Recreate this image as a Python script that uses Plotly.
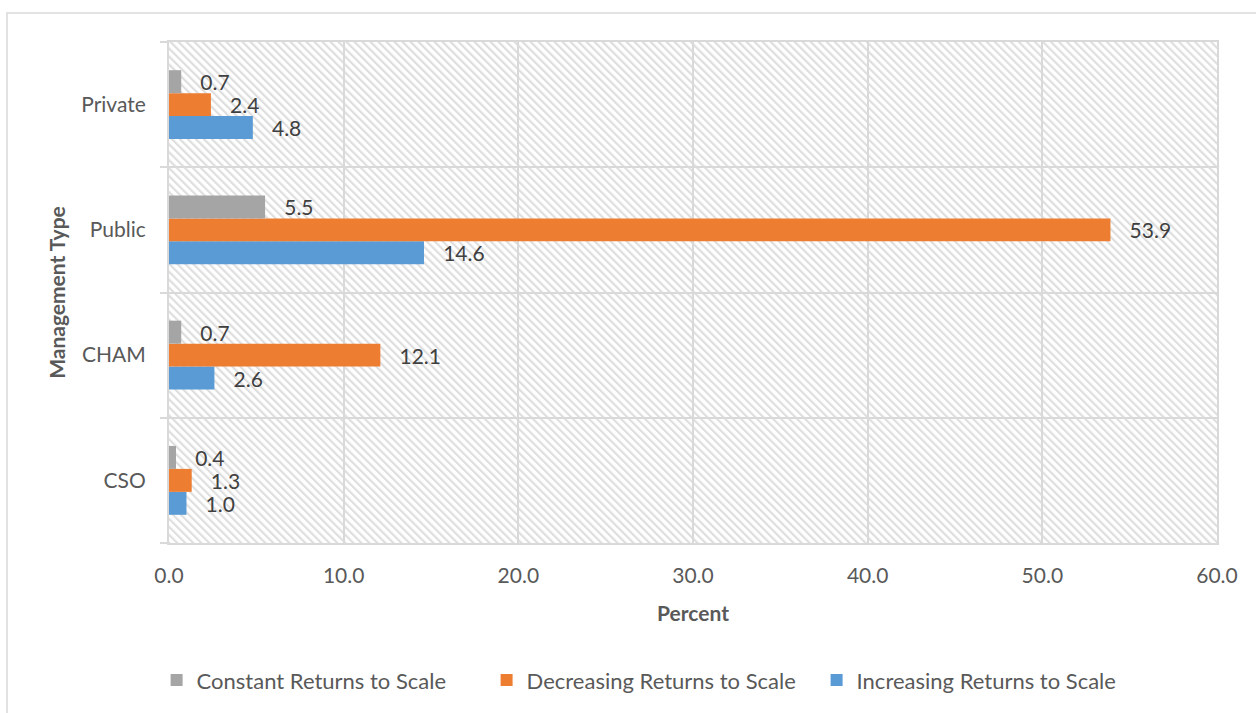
import base64
import plotly.graph_objects as go

# Management types, listed bottom to top
categories = ["CSO", "CHAM", "Public", "Private"]

# Percent of facilities per returns-to-scale class
increasing = [1.0, 2.6, 14.6, 4.8]
decreasing = [1.3, 12.1, 53.9, 2.4]
constant = [0.4, 0.7, 5.5, 0.7]

x_ticks = [0, 10, 20, 30, 40, 50, 60]
x_tick_labels = ["0.0", "10.0", "20.0", "30.0", "40.0", "50.0", "60.0"]

W, H = 1256, 713
M_L, M_R, M_T, M_B = 169, 39, 42, 168
PW, PH = W - M_L - M_R, H - M_T - M_B

FONT = "Lato, 'Open Sans', sans-serif"
FS = 21
GRID = "#D9D9D9"
PAD = "\u00a0\u00a0\u00a0"

# Diagonal hatch fill for the plot area
hatch_svg = f"""<svg xmlns='http://www.w3.org/2000/svg' width='{PW}' height='{PH}'>
<defs><pattern id='h' patternUnits='userSpaceOnUse' width='5.66' height='5.66' patternTransform='rotate(-45)'>
<rect x='0' y='0' width='2.2' height='5.66' fill='#DEDEDE'/></pattern></defs>
<rect width='100%' height='100%' fill='#FFFFFF'/>
<rect width='100%' height='100%' fill='url(#h)'/></svg>"""
hatch_uri = "data:image/svg+xml;base64," + base64.b64encode(hatch_svg.encode()).decode()

series = [
    ("Increasing Returns to Scale", increasing, "#5B9BD5"),
    ("Decreasing Returns to Scale", decreasing, "#ED7D31"),
    ("Constant Returns to Scale", constant, "#A5A5A5"),
]

fig = go.Figure()
for name, vals, color in series:
    fig.add_trace(go.Bar(
        name=name,
        y=categories,
        x=vals,
        orientation="h",
        marker=dict(color=color, line=dict(width=0)),
        text=[f"{v:.1f}" for v in vals],
        texttemplate=PAD + "%{text}",
        textposition="outside",
        textfont=dict(family=FONT, size=FS, color="#404040"),
        constraintext="none",
        cliponaxis=False,
    ))

fig.update_layout(
    width=W, height=H,
    margin=dict(l=M_L, r=M_R, t=M_T, b=M_B),
    paper_bgcolor="white",
    plot_bgcolor="rgba(0,0,0,0)",
    barmode="group",
    bargap=0.45,
    bargroupgap=0,
    font=dict(family=FONT, color="#595959"),
    showlegend=True,
    legend=dict(
        orientation="h",
        traceorder="reversed",
        x=0.4605, xanchor="center",
        y=-0.274, yanchor="middle",
        font=dict(family=FONT, size=22, color="#595959"),
        itemsizing="constant",
        itemwidth=30,
        entrywidth=285,
        entrywidthmode="pixels",
    ),
    images=[dict(
        source=hatch_uri, xref="paper", yref="paper",
        x=0, y=1, sizex=1, sizey=1,
        xanchor="left", yanchor="top",
        sizing="stretch", layer="below",
    )],
    shapes=[dict(
        type="rect", xref="paper", yref="paper",
        x0=(7 - M_L) / PW, x1=(W + 10 - M_L) / PW,
        y0=-(H + 10 - M_T - PH) / PH, y1=(M_T + PH - 13) / PH,
        line=dict(color=GRID, width=1.5),
        fillcolor="rgba(0,0,0,0)",
        layer="below",
    )],
)

fig.update_xaxes(
    range=[0, 60],
    tickvals=x_ticks,
    ticktext=x_tick_labels,
    tickfont=dict(family=FONT, size=FS, color="#595959"),
    ticklabelstandoff=13,
    showgrid=True, gridcolor=GRID, gridwidth=2,
    zeroline=False,
    showline=True, linecolor=GRID, linewidth=2, mirror=True,
    title=dict(text="<b>Percent</b>", font=dict(family=FONT, size=FS, color="#595959"), standoff=20),
)

fig.update_yaxes(
    categoryorder="array", categoryarray=categories,
    tickson="boundaries",
    ticks="outside", ticklen=7, tickcolor=GRID, tickwidth=2,
    tickfont=dict(family=FONT, size=FS, color="#595959"),
    ticklabelstandoff=17,
    showgrid=True, gridcolor=GRID, gridwidth=2,
    showline=True, linecolor=GRID, linewidth=2, mirror=True,
    title=dict(text="<b>Management Type</b>", font=dict(family=FONT, size=FS, color="#595959"), standoff=10),
)

fig.write_html("out.html")
